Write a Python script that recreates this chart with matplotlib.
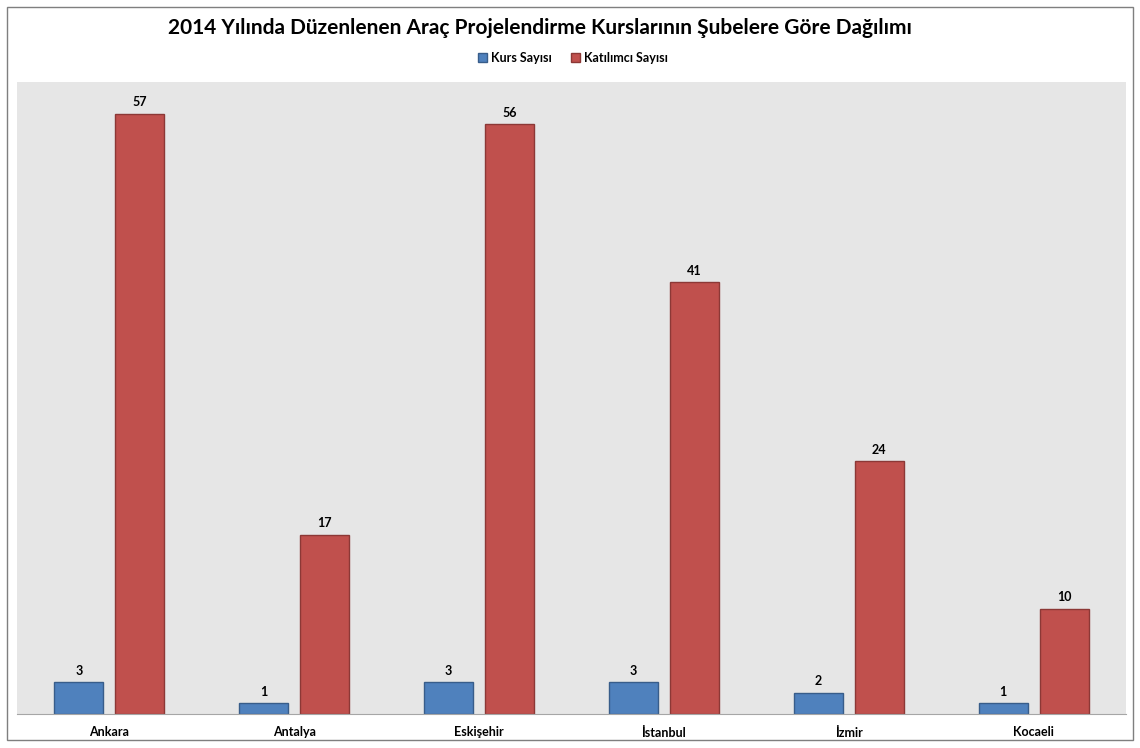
import numpy as np
import matplotlib.pyplot as plt
from matplotlib.patches import Rectangle

plt.rcParams['font.family'] = ['Lato', 'DejaVu Sans']

# Data
branches = ["Ankara", "Antalya", "Eskişehir", "İstanbul", "İzmir", "Kocaeli"]
course_counts = [3, 1, 3, 3, 2, 1]
participant_counts = [57, 17, 56, 41, 24, 10]

title = "2014 Yılında Düzenlenen Araç Projelendirme Kurslarının Şubelere Göre Dağılımı"

fig = plt.figure(figsize=(11.4, 7.48), dpi=100)
ax = fig.add_axes([17/1140, 1 - 714/748, 1109/1140, 632/748])
ax.set_facecolor("#E6E6E6")

x = np.arange(len(branches))
w = 0.265
b1 = ax.bar(x - 0.165, course_counts, w, color="#4F81BD", edgecolor="#385D8A",
            linewidth=1, label="Kurs Sayısı")
b2 = ax.bar(x + 0.165, participant_counts, w, color="#C0504D", edgecolor="#8C3836",
            linewidth=1, label="Katılımcı Sayısı")

for bars in (b1, b2):
    ax.bar_label(bars, padding=4, fontsize=9, fontweight="bold")

ax.set_xlim(-0.5, len(branches) - 0.5)
ax.set_ylim(0, 60)
ax.set_yticks([])
ax.set_xticks(x)
ax.set_xticklabels(branches, fontsize=9, fontweight="bold")
ax.tick_params(axis="x", length=0, pad=9)
for s in ["top", "right", "left"]:
    ax.spines[s].set_visible(False)
ax.spines["bottom"].set_color("#A6A6A6")

fig.text(540/1140, 1 - 28/748, title, ha="center", va="center", fontsize=15, fontweight="bold")
fig.legend(loc="center", bbox_to_anchor=(573/1140, 1 - 58/748), ncol=2, frameon=False,
           prop={"size": 9, "weight": "bold"}, handlelength=0.7, handleheight=0.7,
           handletextpad=0.3, columnspacing=1.6)

fig.patches.append(Rectangle((7/1140, 1 - 740/748), 1126/1140, 733/748,
                             transform=fig.transFigure, fill=False,
                             edgecolor="#7F7F7F", linewidth=1))

fig.savefig("out.png", dpi=100)
